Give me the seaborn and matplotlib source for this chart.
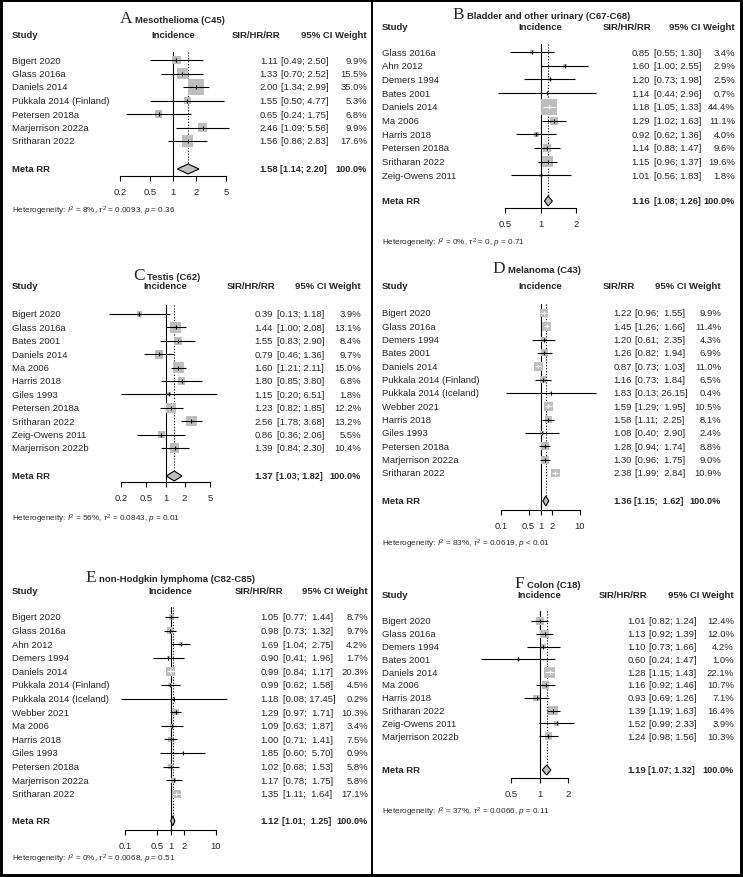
import numpy as np
import matplotlib
matplotlib.use("Agg")
import matplotlib.pyplot as plt
from matplotlib.patches import Polygon, Rectangle
from matplotlib.lines import Line2D
from matplotlib.ticker import NullLocator
import seaborn as sns

W, H = 743, 878

# ---- A: Mesothelioma (C45)
meso_study = ["Bigert 2020", "Glass 2016a", "Daniels 2014", "Pukkala 2014 (Finland)",
              "Petersen 2018a", "Marjerrison 2022a", "Sritharan 2022"]
meso_rr = [1.11, 1.33, 2.00, 1.55, 0.65, 2.46, 1.56]
meso_lo = [0.49, 0.70, 1.34, 0.50, 0.24, 1.09, 0.86]
meso_hi = [2.50, 2.52, 2.99, 4.77, 1.75, 5.56, 2.83]
meso_w = [9.9, 15.5, 35.0, 5.3, 6.8, 9.9, 17.6]
meso_meta = [1.58, 1.14, 2.20]
meso_het = ["8%", "0.0093", "= 0.36"]
meso_ticks = [0.2, 0.5, 1, 2, 5]

# ---- B: Bladder and other urinary (C67-C68)
blad_study = ["Glass 2016a", "Ahn 2012", "Demers 1994", "Bates 2001", "Daniels 2014",
              "Ma 2006", "Harris 2018", "Petersen 2018a", "Sritharan 2022", "Zeig-Owens 2011"]
blad_rr = [0.85, 1.60, 1.20, 1.14, 1.18, 1.29, 0.92, 1.14, 1.15, 1.01]
blad_lo = [0.55, 1.00, 0.73, 0.44, 1.05, 1.02, 0.62, 0.88, 0.96, 0.56]
blad_hi = [1.30, 2.55, 1.98, 2.96, 1.33, 1.63, 1.36, 1.47, 1.37, 1.83]
blad_w = [3.4, 2.9, 2.5, 0.7, 44.4, 11.1, 4.0, 9.6, 19.6, 1.8]
blad_meta = [1.16, 1.08, 1.26]
blad_het = ["0%", "0", "= 0.71"]
blad_ticks = [0.5, 1, 2]

# ---- C: Testis (C62)
test_study = ["Bigert 2020", "Glass 2016a", "Bates 2001", "Daniels 2014", "Ma 2006",
              "Harris 2018", "Giles 1993", "Petersen 2018a", "Sritharan 2022",
              "Zeig-Owens 2011", "Marjerrison 2022b"]
test_rr = [0.39, 1.44, 1.55, 0.79, 1.60, 1.80, 1.15, 1.23, 2.56, 0.86, 1.39]
test_lo = [0.13, 1.00, 0.83, 0.46, 1.21, 0.85, 0.20, 0.82, 1.78, 0.36, 0.84]
test_hi = [1.18, 2.08, 2.90, 1.36, 2.11, 3.80, 6.51, 1.85, 3.68, 2.06, 2.30]
test_w = [3.9, 13.1, 8.4, 9.7, 15.0, 6.8, 1.8, 12.2, 13.2, 5.5, 10.4]
test_meta = [1.37, 1.03, 1.82]
test_het = ["56%", "0.0843", "= 0.01"]
test_ticks = [0.2, 0.5, 1, 2, 5]

# ---- D: Melanoma (C43)
mela_study = ["Bigert 2020", "Glass 2016a", "Demers 1994", "Bates 2001", "Daniels 2014",
              "Pukkala 2014 (Finland)", "Pukkala 2014 (Iceland)", "Webber 2021",
              "Harris 2018", "Giles 1993", "Petersen 2018a", "Marjerrison 2022a",
              "Sritharan 2022"]
mela_rr = [1.22, 1.45, 1.20, 1.26, 0.87, 1.16, 1.83, 1.59, 1.58, 1.08, 1.28, 1.30, 2.38]
mela_lo = [0.96, 1.26, 0.61, 0.82, 0.73, 0.73, 0.13, 1.29, 1.11, 0.40, 0.94, 0.96, 1.99]
mela_hi = [1.55, 1.66, 2.35, 1.94, 1.03, 1.84, 26.15, 1.95, 2.25, 2.90, 1.74, 1.75, 2.84]
mela_w = [9.9, 11.4, 4.3, 6.9, 11.0, 6.5, 0.4, 10.5, 8.1, 2.4, 8.8, 9.0, 10.9]
mela_meta = [1.36, 1.15, 1.62]
mela_het = ["83%", "0.0619", "< 0.01"]
mela_ticks = [0.1, 0.5, 1, 2, 10]

# ---- E: non-Hodgkin lymphoma (C82-C85)
nhl_study = ["Bigert 2020", "Glass 2016a", "Ahn 2012", "Demers 1994", "Daniels 2014",
             "Pukkala 2014 (Finland)", "Pukkala 2014 (Iceland)", "Webber 2021", "Ma 2006",
             "Harris 2018", "Giles 1993", "Petersen 2018a", "Marjerrison 2022a",
             "Sritharan 2022"]
nhl_rr = [1.05, 0.98, 1.69, 0.90, 0.99, 0.99, 1.18, 1.29, 1.09, 1.00, 1.85, 1.02, 1.17, 1.35]
nhl_lo = [0.77, 0.73, 1.04, 0.41, 0.84, 0.62, 0.08, 0.97, 0.63, 0.71, 0.60, 0.68, 0.78, 1.11]
nhl_hi = [1.44, 1.32, 2.75, 1.96, 1.17, 1.58, 17.45, 1.71, 1.87, 1.41, 5.70, 1.53, 1.75, 1.64]
nhl_w = [8.7, 9.7, 4.2, 1.7, 20.3, 4.5, 0.2, 10.3, 3.4, 7.5, 0.9, 5.8, 5.8, 17.1]
nhl_meta = [1.12, 1.01, 1.25]
nhl_het = ["0%", "0.0068", "= 0.51"]
nhl_ticks = [0.1, 0.5, 1, 2, 10]

# ---- F: Colon (C18)
colon_study = ["Bigert 2020", "Glass 2016a", "Demers 1994", "Bates 2001", "Daniels 2014",
               "Ma 2006", "Harris 2018", "Sritharan 2022", "Zeig-Owens 2011",
               "Marjerrison 2022b"]
colon_rr = [1.01, 1.13, 1.10, 0.60, 1.28, 1.16, 0.93, 1.39, 1.52, 1.24]
colon_lo = [0.82, 0.92, 0.73, 0.24, 1.15, 0.92, 0.69, 1.19, 0.99, 0.98]
colon_hi = [1.24, 1.39, 1.66, 1.47, 1.43, 1.46, 1.26, 1.63, 2.33, 1.56]
colon_w = [12.4, 12.0, 4.2, 1.0, 22.1, 10.7, 7.1, 16.4, 3.9, 10.3]
colon_meta = [1.19, 1.07, 1.32]
colon_het = ["37%", "0.0066", "= 0.11"]
colon_ticks = [0.5, 1, 2]

FS = 6.8          # body font size (pt)
BOX_COL = "#BEBEBE"


def fx(x):
    return x / W


def fy(y):
    return 1 - y / H


def tick_fmt(t):
    return f"{t:g}"


def forest(fig, lay, letter, title, est_head, study, rr, lo, hi, w, meta, het, ticks):
    n = len(study)
    rr, lo, hi, w = map(np.asarray, (rr, lo, hi, w))
    ys = lay["first"] + lay["step"] * np.arange(n)
    x0, x1 = lay["tick_px"]
    top, axis_y = lay["line_top"], lay["axis"]

    ax = fig.add_axes([fx(x0), fy(axis_y), (x1 - x0) / W, (axis_y - top) / H])
    ax.set_facecolor("none")
    ax.set_xscale("log")
    ax.set_xlim(ticks[0], ticks[-1])
    ax.set_ylim(axis_y, top)

    # px per log unit, used to decide if the CI fits inside the box
    k = (x1 - x0) / (np.log(ticks[-1]) - np.log(ticks[0]))
    side = lay["box"] * np.sqrt(w / w.max())
    inside = ((np.log(rr) - np.log(lo)) * k <= side / 2) & ((np.log(hi) - np.log(rr)) * k <= side / 2)

    # reference line and meta estimate line
    ax.axvline(1, color="black", lw=0.8, zorder=1)
    dh = 5
    ax.vlines(meta[0], top, lay["meta_y"] - dh, color="black", lw=0.8,
              linestyles=(0, (1, 1.6)), zorder=1)

    # boxes sized by weight
    sns.scatterplot(x=rr, y=ys, s=(side * 0.72) ** 2, marker="s", color=BOX_COL,
                    edgecolor="none", linewidth=0, ax=ax, legend=False, zorder=2)

    cols = np.where(inside, "white", "black")
    ax.hlines(ys, lo, hi, colors=cols, lw=0.8, zorder=3, clip_on=False)
    for xi, yi, c in zip(rr, ys, cols):
        ax.plot([xi], [yi], marker="|", ms=2.6, mew=0.8, color=c, ls="none", zorder=4)

    # summary diamond
    my = lay["meta_y"]
    dia = Polygon([(meta[1], my), (meta[0], my - dh), (meta[2], my), (meta[0], my + dh)],
                  closed=True, facecolor=BOX_COL, edgecolor="black", lw=0.8, zorder=3)
    ax.add_patch(dia)

    # axis
    for s in ["left", "top", "right"]:
        ax.spines[s].set_visible(False)
    ax.spines["bottom"].set_bounds(ticks[0], ticks[-1])
    ax.spines["bottom"].set_linewidth(0.8)
    ax.spines["bottom"].set_color("black")
    ax.set_xticks(ticks)
    ax.set_xticklabels([tick_fmt(t) for t in ticks])
    ax.xaxis.set_minor_locator(NullLocator())
    ax.tick_params(axis="x", length=3.6, width=0.8, pad=4, labelsize=FS,
                   direction="out", bottom=True, color="black")
    ax.set_yticks([])
    ax.set_xlabel("")
    ax.set_ylabel("")

    # title and headers
    fig.text(fx(lay["title_x"] - 2.5), fy(lay["title_y"] + 5), letter, fontsize=12.5,
             family="Liberation Serif", va="baseline", ha="right")
    fig.text(fx(lay["title_x"]), fy(lay["title_y"] + 5), title, fontsize=FS,
             weight="bold", va="baseline", ha="left")
    hy = fy(lay["head_y"])
    one_px = x0 + (0 - np.log(ticks[0])) * k
    fig.text(fx(lay["study_x"]), hy, "Study", fontsize=FS, weight="bold", va="center")
    fig.text(fx(one_px), hy, "Incidence", fontsize=FS, weight="bold", va="center", ha="center")
    fig.text(fx(lay["head_est_r"]), hy, est_head, fontsize=FS, weight="bold", va="center", ha="right")
    fig.text(fx(lay["w_r"]), hy, "95% CI Weight", fontsize=FS, weight="bold", va="center", ha="right")

    # study rows: estimate right-justified, CI left-justified, weight right-justified
    wd = max(len(f"{v:.2f}") for v in hi)
    for i in range(n):
        y = fy(ys[i])
        fig.text(fx(lay["study_x"]), y, study[i], fontsize=FS, va="center")
        fig.text(fx(lay["est_r"]), y, f"{rr[i]:.2f}", fontsize=FS, va="center", ha="right")
        fig.text(fx(lay["ci_l"]), y, f"[{lo[i]:.2f}; {hi[i]:>{wd}.2f}]", fontsize=FS,
                 va="center", ha="left")
        fig.text(fx(lay["w_r"]), y, f"{w[i]:.1f}%", fontsize=FS, va="center", ha="right")

    # meta row
    y = fy(my)
    fig.text(fx(lay["study_x"]), y, "Meta RR", fontsize=FS, weight="bold", va="center")
    fig.text(fx(lay["est_r"]), y, f"{meta[0]:.2f}", fontsize=FS, weight="bold", va="center", ha="right")
    fig.text(fx(lay["ci_l"] - 0.5), y, f"[{meta[1]:.2f}; {meta[2]:>{wd}.2f}]", fontsize=FS - 0.35,
             weight="bold", va="center", ha="left")
    fig.text(fx(lay["w_r"]), y, "100.0%", fontsize=FS - 0.2, weight="bold", va="center", ha="right")

    het_txt = (rf"Heterogeneity: $I^2$ = {het[0]}, $\tau^2$ = {het[1]}, $p$ {het[2]}")
    fig.text(fx(lay["study_x"]), fy(lay["het_y"]), het_txt, fontsize=5.9, va="center")
    return ax


sns.set_theme(style="white")
plt.rcParams["font.family"] = ["Liberation Sans", "DejaVu Sans"]
plt.rcParams["mathtext.fontset"] = "custom"
plt.rcParams["mathtext.rm"] = "Liberation Sans"
plt.rcParams["mathtext.it"] = "Liberation Sans:italic"

fig = plt.figure(figsize=(W / 100, H / 100), dpi=100)
fig.patch.set_facecolor("white")

lay_a = dict(study_x=12, title_x=135, title_y=18, head_y=35, line_top=53,
             first=61, step=13.5, meta_y=170, axis=177, tick_px=(120, 226), est_r=278,
             ci_l=281, w_r=367, head_est_r=280, het_y=211, box=16)
lay_b = dict(study_x=382, title_x=467, title_y=14, head_y=27, line_top=45,
             first=53, step=13.7, meta_y=202, axis=209, tick_px=(505, 576), est_r=650,
             ci_l=654, w_r=735, head_est_r=651, het_y=243, box=16)
lay_c = dict(study_x=12, title_x=147, title_y=275, head_y=287, line_top=306,
             first=315, step=13.4, meta_y=477, axis=483, tick_px=(121, 210), est_r=273,
             ci_l=277, w_r=361, head_est_r=275, het_y=519, box=11)
lay_d = dict(study_x=382, title_x=508, title_y=268, head_y=287, line_top=305,
             first=314, step=13.33, meta_y=502, axis=511, tick_px=(501, 580), est_r=632,
             ci_l=635, w_r=721, head_est_r=635, het_y=544, box=9)
lay_e = dict(study_x=12, title_x=99, title_y=577, head_y=592, line_top=608,
             first=618, step=13.6, meta_y=822, axis=831, tick_px=(125, 216), est_r=279,
             ci_l=283, w_r=368, head_est_r=283, het_y=859, box=9)
lay_f = dict(study_x=382, title_x=527, title_y=583, head_y=596, line_top=612,
             first=622, step=12.8, meta_y=771, axis=779, tick_px=(511, 568), est_r=646,
             ci_l=649, w_r=734, head_est_r=647, het_y=812, box=11)

forest(fig, lay_a, "A", "Mesothelioma (C45)", "SIR/HR/RR",
       meso_study, meso_rr, meso_lo, meso_hi, meso_w, meso_meta, meso_het, meso_ticks)
forest(fig, lay_b, "B", "Bladder and other urinary (C67-C68)", "SIR/HR/RR",
       blad_study, blad_rr, blad_lo, blad_hi, blad_w, blad_meta, blad_het, blad_ticks)
forest(fig, lay_c, "C", "Testis (C62)", "SIR/HR/RR",
       test_study, test_rr, test_lo, test_hi, test_w, test_meta, test_het, test_ticks)
forest(fig, lay_d, "D", "Melanoma (C43)", "SIR/RR",
       mela_study, mela_rr, mela_lo, mela_hi, mela_w, mela_meta, mela_het, mela_ticks)
forest(fig, lay_e, "E", "non-Hodgkin lymphoma (C82-C85)", "SIR/HR/RR",
       nhl_study, nhl_rr, nhl_lo, nhl_hi, nhl_w, nhl_meta, nhl_het, nhl_ticks)
forest(fig, lay_f, "F", "Colon (C18)", "SIR/HR/RR",
       colon_study, colon_rr, colon_lo, colon_hi, colon_w, colon_meta, colon_het, colon_ticks)

# frame and column divider
fig.add_artist(Rectangle((0, 0), 1, 1, transform=fig.transFigure, fill=False,
                         edgecolor="black", lw=4.3))
fig.add_artist(Line2D([fx(371.5), fx(371.5)], [0, 1], transform=fig.transFigure,
                      color="black", lw=1.4))

fig.savefig("out.png", dpi=100)
